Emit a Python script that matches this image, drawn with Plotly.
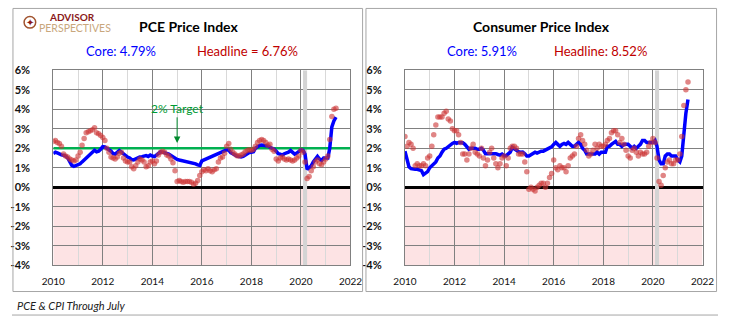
import plotly.graph_objects as go

# ---------------- data ----------------
months = [f"{y}-{m:02d}-01" for y in range(2010, 2022) for m in range(1, 13)][:138]

pce_core = [
    1.72, 1.80, 1.76, 1.70, 1.66, 1.64, 1.60, 1.50, 1.30, 1.12, 1.07, 1.10,
    1.15, 1.20, 1.30, 1.40, 1.50, 1.60, 1.72, 1.85, 1.90, 1.82, 1.85, 1.95,
    2.08, 2.07, 2.02, 1.92, 1.85, 1.72, 1.70, 1.82, 1.88, 1.80, 1.70, 1.60,
    1.55, 1.50, 1.42, 1.40, 1.45, 1.52, 1.55, 1.57, 1.60, 1.62, 1.58, 1.65,
    1.60, 1.57, 1.65, 1.75, 1.82, 1.80, 1.75, 1.73, 1.70, 1.62, 1.57, 1.50,
    1.43, 1.40, 1.38, 1.35, 1.32, 1.30, 1.28, 1.27, 1.25, 1.20, 1.15, 1.12,
    1.35, 1.40, 1.45, 1.50, 1.55, 1.60, 1.63, 1.66, 1.70, 1.75, 1.80, 1.85,
    1.92, 1.90, 1.78, 1.72, 1.65, 1.60, 1.58, 1.55, 1.58, 1.65, 1.75, 1.78,
    1.80, 1.82, 2.00, 2.10, 2.15, 2.17, 2.15, 2.12, 2.12, 2.05, 2.00, 1.95,
    1.85, 1.72, 1.70, 1.65, 1.72, 1.75, 1.80, 1.88, 1.78, 1.70, 1.75, 1.83,
    1.92, 1.90, 1.70, 0.92, 1.00, 1.10, 1.30, 1.45, 1.58, 1.45, 1.38, 1.50,
    1.52, 1.50, 2.00, 3.10, 3.40, 3.60,
]

pce_headline = [
    2.35, 2.40, 2.30, 2.25, 2.10, 1.70, 1.60, 1.55, 1.45, 1.40, 1.35, 1.40,
    1.60, 1.80, 2.15, 2.50, 2.80, 2.85, 2.90, 2.95, 3.05, 2.80, 2.75, 2.65,
    2.55, 2.40, 2.00, 1.80, 1.55, 1.50, 1.45, 1.55, 1.75, 1.80, 1.50, 1.35,
    1.30, 1.30, 1.05, 0.95, 1.10, 1.30, 1.45, 1.40, 1.30, 1.05, 1.10, 1.30,
    1.35, 1.20, 1.35, 1.65, 1.80, 1.85, 1.80, 1.65, 1.60, 1.45, 1.25, 0.85,
    0.30, 0.35, 0.30, 0.25, 0.30, 0.30, 0.30, 0.25, 0.15, 0.20, 0.35, 0.60,
    0.80, 0.90, 0.85, 0.95, 0.85, 0.80, 0.90, 0.95, 1.30, 1.50, 1.55, 1.75,
    2.10, 2.25, 1.95, 1.80, 1.70, 1.62, 1.60, 1.65, 1.70, 1.82, 1.90, 1.92,
    1.90, 1.95, 2.10, 2.30, 2.40, 2.45, 2.40, 2.30, 2.15, 2.20, 1.95, 1.85,
    1.45, 1.35, 1.50, 1.55, 1.45, 1.40, 1.45, 1.40, 1.35, 1.40, 1.50, 1.60,
    1.90, 1.80, 1.30, 0.45, 0.55, 0.85, 1.05, 1.30, 1.40, 1.20, 1.15, 1.30,
    1.45, 1.60, 2.45, 3.63, 4.00, 4.05,
]

cpi_core = [
    1.85, 1.40, 1.05, 0.95, 0.92, 0.92, 0.92, 0.90, 0.85, 0.65, 0.75, 0.80,
    1.00, 1.10, 1.20, 1.30, 1.50, 1.60, 1.80, 1.95, 2.00, 2.10, 2.20, 2.25,
    2.30, 2.25, 2.30, 2.30, 2.28, 2.20, 2.10, 1.95, 2.00, 2.00, 2.00, 1.95,
    1.95, 2.00, 1.90, 1.72, 1.72, 1.74, 1.74, 1.76, 1.72, 1.68, 1.65, 1.70,
    1.62, 1.62, 1.70, 1.80, 2.04, 1.95, 1.88, 1.82, 1.79, 1.80, 1.72, 1.60,
    1.60, 1.67, 1.75, 1.80, 1.75, 1.82, 1.85, 1.85, 1.90, 1.95, 2.00, 2.07,
    2.20, 2.30, 2.20, 2.10, 2.20, 2.25, 2.20, 2.30, 2.20, 2.10, 2.10, 2.20,
    2.30, 2.20, 2.00, 1.90, 1.70, 1.70, 1.70, 1.70, 1.70, 1.80, 1.70, 1.80,
    1.80, 1.80, 2.10, 2.10, 2.20, 2.30, 2.35, 2.20, 2.20, 2.10, 2.20, 2.20,
    2.20, 2.10, 2.00, 2.10, 2.00, 2.10, 2.20, 2.40, 2.40, 2.30, 2.30, 2.30,
    2.30, 2.40, 2.10, 1.40, 1.20, 1.20, 1.60, 1.70, 1.70, 1.60, 1.60, 1.60,
    1.40, 1.30, 1.60, 3.00, 3.80, 4.50,
]

cpi_headline = [
    2.6, 2.1, 2.3, 2.2, 2.0, 1.1, 1.2, 1.1, 1.1, 1.2, 1.1, 1.5,
    1.6, 2.1, 2.7, 3.2, 3.6, 3.6, 3.6, 3.8, 3.9, 3.5, 3.4, 3.0,
    2.9, 2.9, 2.7, 2.3, 1.7, 1.7, 1.4, 1.7, 2.0, 2.2, 1.8, 1.7,
    1.6, 2.0, 1.5, 1.1, 1.4, 1.8, 2.0, 1.5, 1.2, 1.0, 1.2, 1.5,
    1.6, 1.1, 1.5, 2.0, 2.1, 2.1, 2.0, 1.7, 1.7, 1.7, 1.3, 0.8,
    -0.1, 0.0, -0.1, -0.2, 0.0, 0.1, 0.2, 0.2, 0.0, 0.2, 0.5, 0.7,
    1.4, 1.0, 0.9, 1.1, 1.0, 1.0, 0.8, 1.1, 1.5, 1.6, 1.7, 2.1,
    2.5, 2.7, 2.4, 2.2, 1.9, 1.6, 1.7, 1.9, 2.2, 2.0, 2.2, 2.1,
    2.1, 2.2, 2.4, 2.5, 2.8, 2.9, 2.9, 2.7, 2.3, 2.5, 2.2, 1.9,
    1.6, 1.5, 1.9, 2.0, 1.8, 1.6, 1.8, 1.7, 1.7, 1.8, 2.1, 2.3,
    2.5, 2.3, 1.5, 0.3, 0.1, 0.6, 1.0, 1.3, 1.4, 1.2, 1.2, 1.4,
    1.4, 1.7, 2.6, 4.2, 5.0, 5.4,
]

x_ticks = ["2010", "2012", "2014", "2016", "2018", "2020", "2022"]
y_ticks = [6, 5, 4, 3, 2, 1, 0, -1, -2, -3, -4]
panel_titles = ["PCE Price Index", "Consumer Price Index"]
core_labels = ["Core: 4.79%", "Core: 5.91%"]
headline_labels = ["Headline = 6.76%", "Headline: 8.52%"]
target_value = 2
recession = ["2020-02-01", "2020-04-01"]
footnote = "PCE & CPI Through July"

# ---------------- figure ----------------
W, H = 730, 322
FONT = "Lato"
BLUE = "#0000FF"
DOT = "rgba(204,51,51,0.6)"

fig = go.Figure()

for i, (core, head) in enumerate([(pce_core, pce_headline), (cpi_core, cpi_headline)]):
    xa = "x" if i == 0 else "x2"
    ya = "y" if i == 0 else "y2"
    fig.add_trace(go.Scatter(x=months, y=core, mode="lines", xaxis=xa, yaxis=ya,
                             line=dict(color=BLUE, width=3.5), showlegend=False,
                             hoverinfo="skip"))
    fig.add_trace(go.Scatter(x=months, y=head, mode="markers", xaxis=xa, yaxis=ya,
                             marker=dict(color=DOT, size=5.5, line=dict(width=0)),
                             showlegend=False, hoverinfo="skip"))

def px_x(p):
    return p / W

def px_y(p):
    return 1 - p / H

domains = [[px_x(42.7), px_x(350)], [px_x(406.3), px_x(714)]]
ydom = [px_y(269), px_y(66)]

axis_common = dict(
    type="date",
    range=["2010-01-01", "2022-01-01"],
    tickvals=[f"{t}-01-01" for t in x_ticks],
    ticktext=x_ticks,
    showgrid=True, gridcolor="#808080", gridwidth=1,
    minor=dict(dtick="M12", showgrid=True, gridcolor="#D9D9D9", gridwidth=1,
               tick0="2011-01-01"),
    showline=True, linecolor="#808080", linewidth=1, mirror=True,
    tickfont=dict(family=FONT, size=10, color="#111111"),
    ticks="", ticklabelstandoff=7, fixedrange=True,
)
yaxis_common = dict(
    range=[-4, 6], tickvals=y_ticks, ticktext=[f"{v}%" for v in y_ticks],
    showgrid=True, gridcolor="#808080", gridwidth=1,
    zeroline=True, zerolinecolor="black", zerolinewidth=2.5,
    showline=True, linecolor="#808080", linewidth=1, mirror=True,
    tickfont=dict(family=FONT, size=11, color="#111111", weight="bold"),
    ticks="", ticklabelstandoff=20, fixedrange=True,
)

fig.update_layout(
    width=W, height=H, margin=dict(l=0, r=0, t=0, b=0),
    paper_bgcolor="white", plot_bgcolor="white",
    xaxis=dict(domain=domains[0], anchor="y", **axis_common),
    yaxis=dict(domain=ydom, anchor="x", **yaxis_common),
    xaxis2=dict(domain=domains[1], anchor="y2", **axis_common),
    yaxis2=dict(domain=ydom, anchor="x2", **yaxis_common),
    font=dict(family=FONT),
)

shapes = []
for i in range(2):
    xr = "x" if i == 0 else "x2"
    yr = "y" if i == 0 else "y2"
    shapes.append(dict(type="rect", xref=xr, yref=yr, x0="2010-01-01", x1="2022-01-01",
                       y0=-4, y1=0, fillcolor="#FDE3E4", line=dict(width=0), layer="below"))
    shapes.append(dict(type="rect", xref=xr, yref=yr, x0=recession[0], x1=recession[1],
                       y0=-4, y1=6, fillcolor="#D4D4D4", line=dict(width=0), layer="between"))
shapes.append(dict(type="line", xref="x", yref="y", x0="2010-01-01", x1="2022-01-01",
                   y0=target_value, y1=target_value, line=dict(color="#00B050", width=2.5),
                   layer="between"))
shapes.append(dict(type="rect", xref="paper", yref="paper", x0=px_x(1), x1=px_x(362.5),
                   y0=px_y(296.5), y1=px_y(1.5), line=dict(color="#A6A6A6", width=1)))
shapes.append(dict(type="rect", xref="paper", yref="paper", x0=px_x(366), x1=px_x(728.5),
                   y0=px_y(296.5), y1=px_y(1.5), line=dict(color="#A6A6A6", width=1)))
shapes.append(dict(type="line", xref="paper", yref="paper", x0=0, x1=1,
                   y0=px_y(321), y1=px_y(321), line=dict(color="#A6A6A6", width=1)))
shapes.append(dict(type="circle", xref="paper", yref="paper", x0=px_x(12.5), x1=px_x(24.5),
                   y0=px_y(22), y1=px_y(10), line=dict(color="#A0522D", width=1.5),
                   fillcolor="rgba(0,0,0,0)"))
fig.update_layout(shapes=shapes)

ann = []
centers = [183, 547]
core_x = [113, 486]
head_x = [243, 609]
for i in range(2):
    ann.append(dict(text=f"<b>{panel_titles[i]}</b>", x=px_x(centers[i]), y=px_y(20),
                    xref="paper", yref="paper", showarrow=False, xanchor="center",
                    yanchor="middle", font=dict(family=FONT, size=14, color="black")))
    ann.append(dict(text=core_labels[i], x=px_x(core_x[i]), y=px_y(45.5),
                    xref="paper", yref="paper", showarrow=False, xanchor="center",
                    yanchor="middle", font=dict(family=FONT, size=13, color=BLUE)))
    ann.append(dict(text=headline_labels[i], x=px_x(head_x[i]), y=px_y(45.5),
                    xref="paper", yref="paper", showarrow=False, xanchor="center",
                    yanchor="middle", font=dict(family=FONT, size=13, color="#C00000")))

ann.append(dict(text="2% Target", x="2015-01-01", y=2.27, xref="x", yref="y",
                ax="2015-01-01", ay=4.05, axref="x", ayref="y",
                showarrow=True, arrowhead=2, arrowsize=1.3, arrowwidth=1,
                arrowcolor="#008A2E", font=dict(family=FONT, size=12, color="#009933")))

ann.append(dict(text="<b>ADVISOR</b>", x=px_x(36), y=px_y(10), xref="paper", yref="paper",
                showarrow=False, xanchor="left", yanchor="middle",
                font=dict(family=FONT, size=10, color="#8B1A1A")))
ann.append(dict(text="PERSPECTIVES", x=px_x(26), y=px_y(21.5), xref="paper", yref="paper",
                showarrow=False, xanchor="left", yanchor="middle",
                font=dict(family=FONT, size=10.5, color="#C9A77C")))
ann.append(dict(text="✦", x=px_x(18.5), y=px_y(16), xref="paper", yref="paper",
                showarrow=False, xanchor="center", yanchor="middle",
                font=dict(family="DejaVu Sans", size=10, color="#8B1A1A")))

ann.append(dict(text=f"<i>{footnote}</i>", x=px_x(3), y=px_y(311.5), xref="paper",
                yref="paper", showarrow=False, xanchor="left", yanchor="middle",
                font=dict(family=FONT, size=11, color="#222222")))

fig.update_layout(annotations=ann)

fig.write_html("out.html")
